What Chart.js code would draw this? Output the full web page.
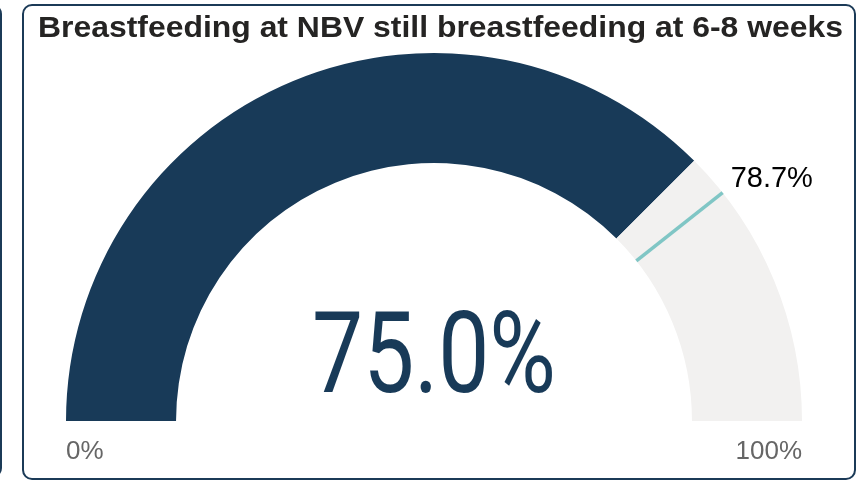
<!DOCTYPE html>
<html>
<head>
<meta charset="utf-8">
<script src="https://cdn.jsdelivr.net/npm/chart.js@4.4.1/dist/chart.umd.min.js"></script>
<style>
  html, body { margin: 0; padding: 0; background: #fff; }
  body { width: 856px; height: 481px; position: relative; overflow: hidden; }
  .card { position: absolute; box-sizing: border-box; border: 2px solid #1b3a57; border-radius: 10px; background: #fff; }
  #cardLeft { left: -40px; top: 4px; width: 42px; height: 474px; }
  #cardMain { left: 22px; top: 4px; width: 834px; height: 476px; }
  #grafico { position: absolute; left: 0; top: 0; }
</style>
</head>
<body>
<div class="card" id="cardLeft"></div>
<div class="card" id="cardMain"></div>
<canvas id="grafico" width="856" height="481"></canvas>
<script>
// Dados do medidor
const titulo = "Breastfeeding at NBV still breastfeeding at 6-8 weeks";
const valorMin = [0];
const valorMax = [100];
const valorAtual = [75.0];
const valorMeta = [78.7];
const rotulos = ["0%", "100%"];

const corValor = "#183a58";
const corFundo = "#f2f1f0";
const corMeta = "#80c6c5";

// Desenha título, número central, meta e rótulos
const textoGauge = {
  id: "textoGauge",
  afterDraw(chart) {
    const ctx = chart.ctx;
    const arco = chart.getDatasetMeta(0).data[0];
    const cx = arco.x, cy = arco.y;
    const R = arco.outerRadius, r = arco.innerRadius;
    const min = valorMin[0], max = valorMax[0];

    ctx.save();

    // título (esticado para a largura do cartão)
    ctx.fillStyle = "#252423";
    ctx.font = "bold 30px 'Liberation Sans', Arial, sans-serif";
    ctx.textAlign = "left";
    ctx.textBaseline = "alphabetic";
    const lt = ctx.measureText(titulo).width;
    ctx.save();
    ctx.translate(38, 37);
    ctx.scale(805 / lt, 1);
    ctx.fillText(titulo, 0, 0);
    ctx.restore();

    // linha da meta
    const f = (valorMeta[0] - min) / (max - min);
    const a = Math.PI + f * Math.PI;
    ctx.strokeStyle = corMeta;
    ctx.lineWidth = 3.5;
    ctx.beginPath();
    ctx.moveTo(cx + r * Math.cos(a), cy + r * Math.sin(a));
    ctx.lineTo(cx + R * Math.cos(a), cy + R * Math.sin(a));
    ctx.stroke();

    // rótulo da meta
    ctx.fillStyle = "#000";
    ctx.font = "29px 'Liberation Sans', Arial, sans-serif";
    ctx.fillText(valorMeta[0].toFixed(1) + "%", cx + R * Math.cos(a) + 8, cy + R * Math.sin(a) - 6);

    // rótulos min / max
    ctx.fillStyle = "#666";
    ctx.font = "26px 'Liberation Sans', Arial, sans-serif";
    ctx.textAlign = "left";
    ctx.fillText(rotulos[0], cx - R, cy + 38);
    ctx.textAlign = "right";
    ctx.fillText(rotulos[1], cx + R, cy + 38);

    // valor central (fonte condensada)
    const txt = valorAtual[0].toFixed(1) + "%";
    ctx.font = "114px Roboto, sans-serif";
    ctx.textAlign = "center";
    const larg = ctx.measureText(txt).width;
    ctx.translate(cx, cy - 29);
    ctx.scale(244 / larg, 1);
    ctx.fillStyle = corValor;
    ctx.fillText(txt, 0, 0);

    ctx.restore();
  }
};

new Chart(document.getElementById("grafico").getContext("2d"), {
  type: "doughnut",
  data: {
    labels: ["Valor", "Restante"],
    datasets: [{
      data: [valorAtual[0] - valorMin[0], valorMax[0] - valorAtual[0]],
      backgroundColor: [corValor, corFundo],
      borderWidth: 0
    }]
  },
  options: {
    responsive: false,
    animation: false,
    rotation: -90,
    circumference: 180,
    cutout: "70.1%",
    layout: { padding: { left: 66, right: 54, top: 53, bottom: 60 } },
    plugins: { legend: { display: false }, tooltip: { enabled: false } }
  },
  plugins: [textoGauge]
});
</script>
</body>
</html>
